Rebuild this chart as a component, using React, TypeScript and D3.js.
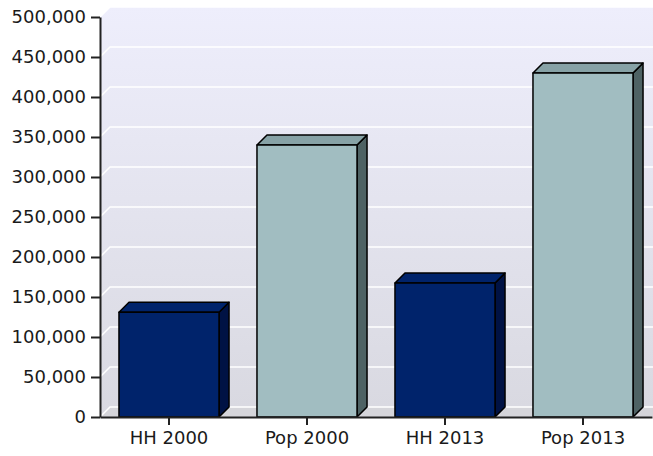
import { useEffect, useRef } from "react";
import * as d3 from "d3";

const categories = ["HH 2000", "Pop 2000", "HH 2013", "Pop 2013"];
const values = [131000, 340000, 167500, 430000];
const yTicks = [0, 50000, 100000, 150000, 200000, 250000, 300000, 350000, 400000, 450000, 500000];

const App = () => {
  const ref = useRef<SVGSVGElement>(null);

  useEffect(() => {
    drawChart();
  });

  function drawChart() {
    const svg = d3.select(ref.current);
    svg.selectAll("*").remove();

    const WIDTH = 653,
      HEIGHT = 456,
      MARGINS = { top: 17, right: 1, bottom: 39, left: 100 },
      DEPTH = 10;

    const x0 = MARGINS.left,
      x1 = WIDTH - MARGINS.right,
      yBase = HEIGHT - MARGINS.bottom;

    const xScale = d3.scaleBand().domain(categories).range([x0, x1]).paddingInner(0.275).paddingOuter(0.1375);
    const yScale = d3.scaleLinear().domain([0, 500000]).range([yBase, MARGINS.top]);

    const defs = svg.append("defs");
    const grad = defs.append("linearGradient").attr("id", "wall").attr("x1", 0).attr("y1", 0).attr("x2", 0).attr("y2", 1);
    grad.append("stop").attr("offset", "0%").attr("stop-color", "#eeeefc");
    grad.append("stop").attr("offset", "100%").attr("stop-color", "#d9d9e1");

    // back wall
    svg.append("rect")
      .attr("x", x0 + DEPTH)
      .attr("y", yScale(500000) - DEPTH)
      .attr("width", x1 - x0)
      .attr("height", yScale(0) - yScale(500000))
      .attr("fill", "url(#wall)");

    // left wall
    svg.append("polygon")
      .attr("points", [
        [x0, yScale(500000)], [x0 + DEPTH, yScale(500000) - DEPTH],
        [x0 + DEPTH, yBase - DEPTH], [x0, yBase]
      ].join(" "))
      .attr("fill", "url(#wall)");

    // floor
    svg.append("polygon")
      .attr("points", [
        [x0, yBase], [x0 + DEPTH, yBase - DEPTH], [x1 + DEPTH, yBase - DEPTH], [x1, yBase]
      ].join(" "))
      .attr("fill", "#d5d5da");

    // grid lines
    const grid = svg.append("g").attr("stroke", "#ffffff").attr("stroke-width", 1.5).attr("fill", "none");
    yTicks.forEach(t => {
      const y = yScale(t);
      grid.append("polyline")
        .attr("points", [[x0, y], [x0 + DEPTH, y - DEPTH], [x1 + DEPTH, y - DEPTH]].join(" "));
    });

    // bars
    const colors = [
      { front: "#00236b", top: "#00236b", side: "#001244" },
      { front: "#a1bdc1", top: "#87a2a6", side: "#4e6264" },
    ];
    const bw = xScale.bandwidth();
    categories.forEach((c, i) => {
      const col = colors[i % 2];
      const bx = xScale(c) as number;
      const by = yScale(values[i]);
      const g = svg.append("g").attr("stroke", "#000").attr("stroke-width", 1.5).attr("stroke-linejoin", "round");
      g.append("polygon")
        .attr("points", [[bx + bw, by], [bx + bw + DEPTH, by - DEPTH], [bx + bw + DEPTH, yBase - DEPTH], [bx + bw, yBase]].join(" "))
        .attr("fill", col.side);
      g.append("polygon")
        .attr("points", [[bx, by], [bx + DEPTH, by - DEPTH], [bx + bw + DEPTH, by - DEPTH], [bx + bw, by]].join(" "))
        .attr("fill", col.top);
      g.append("rect")
        .attr("x", bx)
        .attr("y", by)
        .attr("width", bw)
        .attr("height", yBase - by)
        .attr("fill", col.front);
    });

    // y axis
    const yAxis = d3.axisLeft(yScale).tickValues(yTicks).tickFormat(d3.format(",")).tickSize(9).tickSizeOuter(0).tickPadding(5);
    const gy = svg.append("g").attr("transform", "translate(" + x0 + ",0)").call(yAxis);
    gy.select(".domain").attr("stroke", "#222").attr("stroke-width", 2);
    gy.selectAll(".tick line").attr("stroke", "#222").attr("stroke-width", 2);
    gy.selectAll("text").attr("font-family", "DejaVu Sans").attr("font-size", 18).attr("fill", "#1a1a1a");

    // x axis
    const xAxis = d3.axisBottom(xScale).tickSize(8).tickSizeOuter(0).tickPadding(6);
    const gx = svg.append("g").attr("transform", "translate(0," + yBase + ")").call(xAxis);
    gx.select(".domain").attr("stroke", "#222").attr("stroke-width", 2);
    gx.selectAll(".tick line").attr("stroke", "#222").attr("stroke-width", 2);
    gx.selectAll("text").attr("font-family", "DejaVu Sans").attr("font-size", 18).attr("fill", "#1a1a1a");
  }

  return (
    <svg ref={ref} width="653" height="456" style={{ position: "absolute", left: 0, top: 0, background: "#ffffff" }}></svg>
  );
};

export default App;
